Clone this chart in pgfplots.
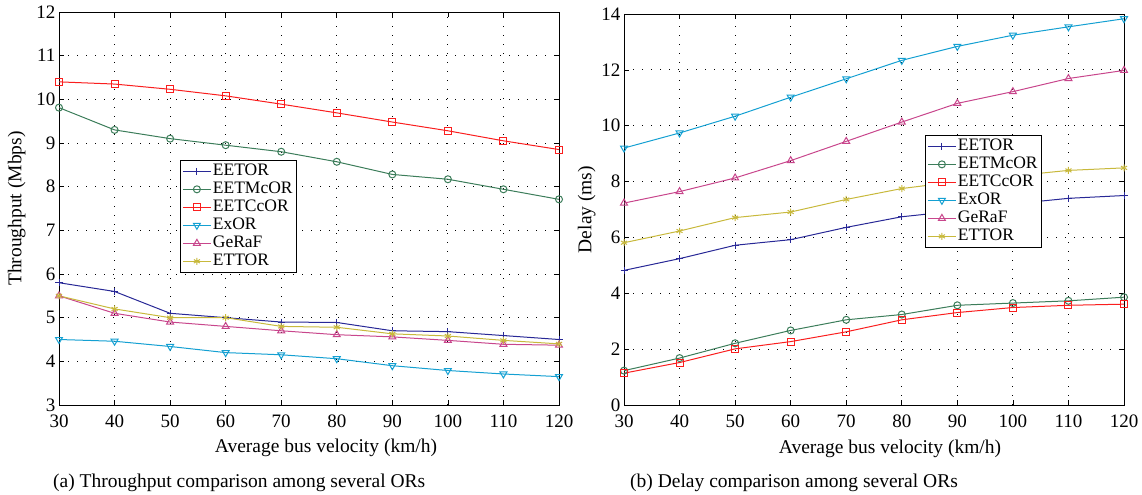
\documentclass[border=0pt]{standalone}
\usepackage{fontspec}
\setmainfont{Liberation Serif}
\usepackage{pgfplots}
\pgfplotsset{compat=1.18}
\definecolor{cA}{RGB}{40,40,150}
\definecolor{cB}{RGB}{60,125,90}
\definecolor{cC}{RGB}{250,30,30}
\definecolor{cD}{RGB}{20,160,210}
\definecolor{cE}{RGB}{200,70,140}
\definecolor{cF}{RGB}{200,185,60}
\pgfplotsset{
  myaxis/.style={
    scale only axis, width=500bp, xmin=30, xmax=120, xtick={30,40,...,120},
    tick align=inside, major tick length=5bp,
    grid=major, major grid style={black, dash pattern=on 1bp off 8bp, line width=0.8bp},
    axis line style={black, line width=0.8bp},
    every tick/.style={black, line width=0.6bp},
    tick label style={font=\fontsize{19bp}{21bp}\selectfont},
    xticklabel style={yshift=-6bp},
    label style={font=\fontsize{19.5bp}{22bp}\selectfont},
    /pgf/number format/assume math mode=true,
    xlabel={Average bus velocity (km/h)},
    legend style={font=\fontsize{17.5bp}{19bp}\selectfont, draw=black, line width=0.8bp, inner sep=2bp, row sep=0.5bp, fill=white,
      nodes={inner sep=1.5bp, text height=11.5bp, text depth=3bp, font=\fontsize{17.5bp}{19bp}\selectfont},
      /tikz/every even column/.append style={column sep=4bp}},
    legend cell align=left,
    legend image code/.code={\draw[mark repeat=2,mark phase=2] plot coordinates {(0bp,0bp) (14bp,0bp) (28bp,0bp)};},
    every axis plot/.append style={line width=1bp, mark size=3.5bp},
  }
}
\begin{document}
\begin{tikzpicture}
\path[use as bounding box] (0,0) rectangle (1142bp,495bp);
\begin{axis}[myaxis, at={(59bp,90bp)}, anchor=south west, height=393bp,
  ymin=3, ymax=12, ytick={3,4,...,12},
  ylabel={Throughput (Mbps)},
  xlabel style={at={(axis description cs:0.534,-0.122)}, anchor=base},
  ylabel style={at={(axis description cs:-0.0846,0.5)}, anchor=center},
  legend style={at={(axis description cs:0.242,0.623)}, anchor=north west}]
\addplot[color=cA, mark=+] coordinates {(30,5.8)(40,5.6)(50,5.1)(60,5.0)(70,4.9)(80,4.89)(90,4.7)(100,4.68)(110,4.59)(120,4.5)};
\addlegendentry{EETOR}
\addplot[color=cB, mark=o] coordinates {(30,9.81)(40,9.3)(50,9.1)(60,8.95)(70,8.8)(80,8.57)(90,8.28)(100,8.17)(110,7.94)(120,7.71)};
\addlegendentry{EETMcOR}
\addplot[color=cC, mark=square] coordinates {(30,10.4)(40,10.35)(50,10.23)(60,10.08)(70,9.89)(80,9.69)(90,9.48)(100,9.28)(110,9.05)(120,8.85)};
\addlegendentry{EETCcOR}
\addplot[color=cD, mark=triangle, mark size=4bp, mark options={rotate=180}] coordinates {(30,4.5)(40,4.46)(50,4.34)(60,4.2)(70,4.15)(80,4.06)(90,3.9)(100,3.79)(110,3.71)(120,3.65)};
\addlegendentry{ExOR}
\addplot[color=cE, mark=triangle, mark size=4bp] coordinates {(30,5.5)(40,5.1)(50,4.9)(60,4.8)(70,4.7)(80,4.61)(90,4.56)(100,4.48)(110,4.39)(120,4.37)};
\addlegendentry{GeRaF}
\addplot[color=cF, mark=asterisk] coordinates {(30,5.5)(40,5.2)(50,5.0)(60,5.0)(70,4.8)(80,4.78)(90,4.63)(100,4.58)(110,4.48)(120,4.4)};
\addlegendentry{ETTOR}
\end{axis}
\begin{axis}[myaxis, at={(624bp,90bp)}, anchor=south west, height=391bp,
  ymin=0, ymax=14, ytick={0,2,...,14},
  ylabel={Delay (ms)},
  xlabel style={at={(axis description cs:0.532,-0.123)}, anchor=base},
  ylabel style={at={(axis description cs:-0.0747,0.5)}, anchor=center},
  legend style={at={(axis description cs:0.602,0.69)}, anchor=north west}]
\addplot[color=cA, mark=+] coordinates {(30,4.82)(40,5.24)(50,5.72)(60,5.92)(70,6.36)(80,6.74)(90,6.95)(100,7.2)(110,7.4)(120,7.5)};
\addlegendentry{EETOR}
\addplot[color=cB, mark=o] coordinates {(30,1.23)(40,1.68)(50,2.21)(60,2.67)(70,3.05)(80,3.24)(90,3.57)(100,3.65)(110,3.73)(120,3.86)};
\addlegendentry{EETMcOR}
\addplot[color=cC, mark=square] coordinates {(30,1.14)(40,1.52)(50,2.01)(60,2.27)(70,2.62)(80,3.05)(90,3.31)(100,3.49)(110,3.57)(120,3.61)};
\addlegendentry{EETCcOR}
\addplot[color=cD, mark=triangle, mark size=4bp, mark options={rotate=180}] coordinates {(30,9.2)(40,9.74)(50,10.34)(60,11.02)(70,11.68)(80,12.34)(90,12.84)(100,13.24)(110,13.54)(120,13.83)};
\addlegendentry{ExOR}
\addplot[color=cE, mark=triangle, mark size=4bp] coordinates {(30,7.23)(40,7.64)(50,8.13)(60,8.75)(70,9.44)(80,10.13)(90,10.8)(100,11.22)(110,11.69)(120,11.98)};
\addlegendentry{GeRaF}
\addplot[color=cF, mark=asterisk] coordinates {(30,5.81)(40,6.23)(50,6.71)(60,6.91)(70,7.36)(80,7.75)(90,8.0)(100,8.2)(110,8.4)(120,8.49)};
\addlegendentry{ETTOR}
\end{axis}
\node[anchor=base west, inner sep=0pt, font=\fontsize{19.5bp}{22bp}\selectfont] at (53bp,8bp) {(a) Throughput comparison among several ORs};
\node[anchor=base west, inner sep=0pt, font=\fontsize{19.5bp}{22bp}\selectfont] at (630bp,8bp) {(b) Delay comparison among several ORs};
\end{tikzpicture}
\end{document}
